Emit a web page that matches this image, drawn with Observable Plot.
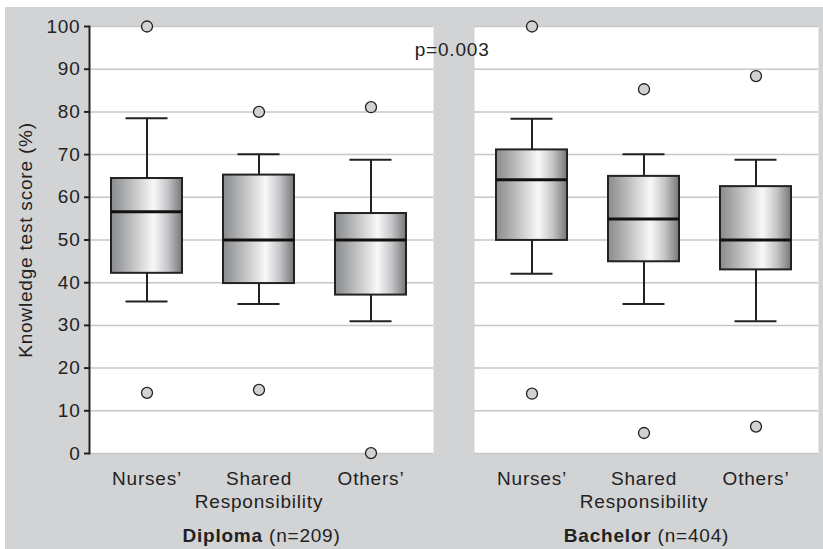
<!DOCTYPE html>
<html>
<head>
<meta charset="utf-8">
<script src="https://cdn.jsdelivr.net/npm/d3@7"></script>
<script src="https://cdn.jsdelivr.net/npm/@observablehq/plot@0.6"></script>
<style>
  html, body { margin: 0; padding: 0; background: #ffffff; }
  #wrap { position: absolute; left: 5px; top: 7px; width: 818px; height: 542px; background: #d2d3d5; }
</style>
</head>
<body>
<div id="wrap"></div>
<script>
// ---- data ----
const yTicks = [0, 10, 20, 30, 40, 50, 60, 70, 80, 90, 100];
const groups = ["Diploma", "Bachelor"];
const groupN = [209, 404];
const categories = ["Nurses’", "Shared Responsibility", "Others’"];

const boxGroup = ["Diploma", "Diploma", "Diploma", "Bachelor", "Bachelor", "Bachelor"];
const boxCategory = ["Nurses’", "Shared Responsibility", "Others’", "Nurses’", "Shared Responsibility", "Others’"];
const lowerWhisker = [35.6, 35.0, 31.0, 42.1, 35.0, 31.0];
const q1 = [42.2, 39.8, 37.1, 49.9, 44.9, 43.0];
const median = [56.6, 50.0, 50.0, 64.1, 54.9, 50.0];
const q3 = [64.4, 65.2, 56.2, 71.1, 64.9, 62.5];
const upperWhisker = [78.5, 70.1, 68.8, 78.4, 70.1, 68.8];

const outlierGroup = ["Diploma", "Diploma", "Diploma", "Diploma", "Diploma", "Diploma",
                      "Bachelor", "Bachelor", "Bachelor", "Bachelor", "Bachelor", "Bachelor"];
const outlierCategory = ["Nurses’", "Nurses’", "Shared Responsibility", "Shared Responsibility", "Others’", "Others’",
                         "Nurses’", "Nurses’", "Shared Responsibility", "Shared Responsibility", "Others’", "Others’"];
const outlierValue = [100, 14.2, 80, 14.9, 81.1, 0.1, 100, 14.0, 85.3, 4.8, 88.4, 6.3];

const pValueText = "p=0.003";
const yLabel = "Knowledge test score (%)";

// ---- tables built from the arrays ----
const boxes = boxGroup.map((g, i) => ({
  group: g, category: boxCategory[i],
  lo: lowerWhisker[i], q1: q1[i], median: median[i], q3: q3[i], hi: upperWhisker[i]
}));
const outliers = outlierValue.map((v, i) => ({group: outlierGroup[i], category: outlierCategory[i], value: v}));

const ink = "#222222";
const fontFamily = "'Liberation Sans', Arial, Helvetica, sans-serif";

const plot = Plot.plot({
  width: 818,
  height: 542,
  marginLeft: 84,
  marginRight: 5,
  marginTop: 19,
  marginBottom: 96,
  style: {background: "transparent", fontFamily, fontSize: "19px", color: ink, letterSpacing: "0.8px", overflow: "visible"},
  fx: {domain: groups, paddingInner: 41 / 385, paddingOuter: 0, axis: null, label: null},
  x: {domain: categories, paddingInner: 0.369, paddingOuter: 0.2134, align: 0.44, axis: null, label: null},
  y: {domain: [0, 100], axis: null, label: null},
  marks: [
    Plot.frame({fill: "white", stroke: "none"}),
    Plot.gridY(yTicks, {stroke: "#c6c7c9", strokeOpacity: 1, strokeWidth: 1.5}),
    // whiskers
    Plot.ruleX(boxes, {fx: "group", x: "category", y1: "lo", y2: "q1", stroke: ink, strokeWidth: 2}),
    Plot.ruleX(boxes, {fx: "group", x: "category", y1: "q3", y2: "hi", stroke: ink, strokeWidth: 2}),
    Plot.tickY(boxes, {fx: "group", x: "category", y: "lo", insetLeft: 14.5, insetRight: 14.5, stroke: ink, strokeWidth: 2}),
    Plot.tickY(boxes, {fx: "group", x: "category", y: "hi", insetLeft: 14.5, insetRight: 14.5, stroke: ink, strokeWidth: 2}),
    // boxes
    Plot.barY(boxes, {fx: "group", x: "category", y1: "q1", y2: "q3", fill: "#999999", stroke: ink, strokeWidth: 2,
      ariaLabel: "box"}),
    Plot.tickY(boxes, {fx: "group", x: "category", y: "median", stroke: "#111111", strokeWidth: 3}),
    // outliers
    Plot.dot(outliers, {fx: "group", x: "category", y: "value", r: 5.5, fill: "#d2d2d2", stroke: ink, strokeWidth: 1.3}),
    // axes
    Plot.frame({anchor: "left", facetAnchor: "left", stroke: ink, strokeWidth: 2}),
    Plot.axisY(yTicks, {tickSize: 5, tickPadding: 4, stroke: ink, strokeWidth: 2, fill: ink, fontSize: 19,
      label: yLabel, labelAnchor: "center", labelOffset: 71, labelArrow: "none"}),
    Plot.axisX({tickSize: 0, tickPadding: 16, fontSize: 19, lineHeight: 1.17, fill: ink,
      tickFormat: (d) => d.replace(" ", "\n"), label: null}),
    Plot.axisFx({anchor: "bottom", tickSize: 0, tickPadding: 74.5, fontSize: 19, fill: ink, label: null}),
    Plot.text([pValueText], {fx: () => groups[1], frameAnchor: "top-left", textAnchor: "end", lineAnchor: "top",
      dx: 15, dy: 15.5, fontSize: 19, fill: ink})
  ]
});

// gradient fill for the boxes
const svgEl = plot.tagName.toLowerCase() === "svg" ? plot : plot.querySelector("svg");
const svg = d3.select(svgEl);
const defs = svg.insert("defs", ":first-child");
const grad = defs.append("linearGradient").attr("id", "boxGrad")
  .attr("gradientUnits", "objectBoundingBox")
  .attr("x1", "0").attr("x2", "1").attr("y1", "0").attr("y2", "0");
[["0%", "#8a8b8d"], ["18%", "#a9aaac"], ["60%", "#f8f8f8"], ["80%", "#c4c5c7"], ["100%", "#76777a"]]
  .forEach(([o, c]) => grad.append("stop").attr("offset", o).attr("stop-color", c));
svg.selectAll('[aria-label="box"], [aria-label="box"] rect, [aria-label="bar"], [aria-label="bar"] rect')
  .attr("fill", "url(#boxGrad)")
  .style("fill", "url(#boxGrad)");

// facet labels: bold group name + normal sample size
svg.selectAll('g[aria-label="fx-axis tick label"] text').each(function () {
  const name = this.textContent.trim();
  const idx = groups.indexOf(name);
  if (idx < 0) return;
  const t = d3.select(this);
  t.text(null);
  t.append("tspan").attr("font-weight", "bold").text(name);
  t.append("tspan").attr("font-weight", "normal").text(" (n=" + groupN[idx] + ")");
});

document.getElementById("wrap").appendChild(plot);
</script>
</body>
</html>
